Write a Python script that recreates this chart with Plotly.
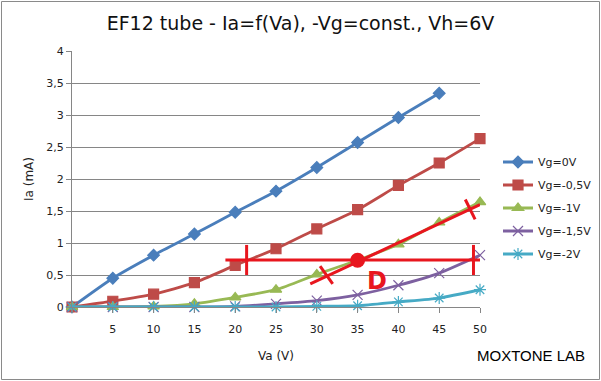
import plotly.graph_objects as go

# ---- data ----
va = [0, 5, 10, 15, 20, 25, 30, 35, 40, 45, 50]
ia_vg0 = [0, 0.45, 0.81, 1.14, 1.48, 1.81, 2.18, 2.57, 2.96, 3.34]
ia_vg05 = [0, 0.09, 0.20, 0.38, 0.65, 0.91, 1.22, 1.52, 1.90, 2.25, 2.63]
ia_vg1 = [0, 0.0, 0.01, 0.05, 0.15, 0.27, 0.51, 0.73, 0.98, 1.32, 1.64]
ia_vg15 = [0, 0.0, 0.0, 0.0, 0.01, 0.05, 0.10, 0.19, 0.34, 0.53, 0.81]
ia_vg2 = [0, 0.0, 0.0, 0.0, 0.0, 0.0, 0.01, 0.02, 0.08, 0.14, 0.27]
series_names = ["Vg=0V", "Vg=-0,5V", "Vg=-1V", "Vg=-1,5V", "Vg=-2V"]
x_tick_vals = [0, 5, 10, 15, 20, 25, 30, 35, 40, 45, 50]
x_tick_text = ["", "5", "10", "15", "20", "25", "30", "35", "40", "45", "50"]

# ---- red construction (annotation) ----
hline_x = [18.8, 50.0]
hline_y = [0.735, 0.735]
hline_ticks_x = [21.4, 49.2]
hline_tick_y = [0.50, 0.97]
diag_x = [29.2, 50.0]
diag_y = [0.36, 1.60]
diag_ticks = [[30.4, 0.64, 31.95, 0.36], [48.2, 1.68, 49.4, 1.37]]
dot_pt = [35.0, 0.73]
d_label_pt = [37.4, 0.40]

colors = ["#4A7EBB", "#BE4B48", "#98B954", "#7D60A0", "#46AAC5"]
symbols = ["diamond", "square", "triangle-up", "x-thin-open", "asterisk-open"]
sizes = [9, 10, 10, 10, 10]
red = "#E8161E"

fig = go.Figure()
for i, (name, ys) in enumerate(zip(series_names, [ia_vg0, ia_vg05, ia_vg1, ia_vg15, ia_vg2])):
    fig.add_trace(go.Scatter(
        x=va[:len(ys)], y=ys, name=name, mode="lines+markers",
        line=dict(color=colors[i], width=2.8, shape="spline", smoothing=0.6),
        marker=dict(symbol=symbols[i], size=sizes[i], color=colors[i],
                    line=dict(color=colors[i], width=1.2)),
        cliponaxis=False, legendgroup=name,
    ))

# red construction lines
fig.add_trace(go.Scatter(x=hline_x, y=hline_y, mode="lines", line=dict(color=red, width=3),
                         showlegend=False, hoverinfo="skip", cliponaxis=False))
fig.add_trace(go.Scatter(x=diag_x, y=diag_y, mode="lines", line=dict(color=red, width=3),
                         showlegend=False, hoverinfo="skip", cliponaxis=False))
for tx in hline_ticks_x:
    fig.add_trace(go.Scatter(x=[tx, tx], y=hline_tick_y, mode="lines", line=dict(color=red, width=3),
                             showlegend=False, hoverinfo="skip", cliponaxis=False))
for t in diag_ticks:
    fig.add_trace(go.Scatter(x=[t[0], t[2]], y=[t[1], t[3]], mode="lines", line=dict(color=red, width=3),
                             showlegend=False, hoverinfo="skip", cliponaxis=False))
fig.add_trace(go.Scatter(x=[dot_pt[0]], y=[dot_pt[1]], mode="markers",
                         marker=dict(color=red, size=15), showlegend=False,
                         hoverinfo="skip", cliponaxis=False))
fig.add_annotation(x=d_label_pt[0], y=d_label_pt[1], text="<b>D</b>", showarrow=False,
                   font=dict(family="DejaVu Sans", size=24, color=red))

axis_gray = "#868686"
fig.update_layout(
    width=601, height=381,
    margin=dict(l=72, r=121, t=51, b=74),
    paper_bgcolor="white", plot_bgcolor="white",
    separators=", ",
    font=dict(family="DejaVu Sans", size=11, color="#222222"),
    title=dict(text="EF12 tube - Ia=f(Va), -Vg=const., Vh=6V", x=0.5, xanchor="center",
               y=1 - 23 / 381, yanchor="middle", font=dict(family="DejaVu Sans", size=19, color="#111111")),
    legend=dict(xref="container", yref="container", x=498 / 601, y=1 - 147.5 / 381,
                xanchor="left", yanchor="top", tracegroupgap=4,
                font=dict(family="DejaVu Sans", size=11, color="#222222"),
                itemwidth=30, bgcolor="rgba(0,0,0,0)"),
    showlegend=True,
)
fig.update_xaxes(range=[0, 50], tickvals=x_tick_vals, ticktext=x_tick_text,
                 showgrid=False, showline=True, linecolor=axis_gray, linewidth=1,
                 ticks="outside", ticklen=5, tickcolor=axis_gray, zeroline=False,
                 ticklabelstandoff=7,
                 title=dict(text="Va (V)", standoff=16, font=dict(size=12)))
fig.update_yaxes(range=[0, 4], dtick=0.5, tickformat=".1~f",
                 showgrid=True, gridcolor=axis_gray, gridwidth=1,
                 showline=True, linecolor=axis_gray, linewidth=1,
                 ticks="outside", ticklen=5, tickcolor=axis_gray, zeroline=False,
                 title=dict(text="Ia (mA)", standoff=10, font=dict(size=12)))

fig.add_annotation(xref="paper", yref="paper", x=(587 - 72) / 408, y=(307 - 355) / 256,
                   xanchor="right", yanchor="middle", showarrow=False, text="MOXTONE LAB",
                   font=dict(family="Liberation Sans", size=15, color="#000000"))

# outer border
fig.add_shape(type="rect", xref="paper", yref="paper",
              x0=(1.5 - 72) / 408, x1=(599.5 - 72) / 408,
              y0=(307 - 379.5) / 256, y1=(307 - 1.5) / 256,
              line=dict(color="#8A8A8A", width=1), layer="below")

fig.write_html("out.html", config={"displayModeBar": False},
               post_script="document.body.style.margin='0';document.body.style.overflow='hidden';")
